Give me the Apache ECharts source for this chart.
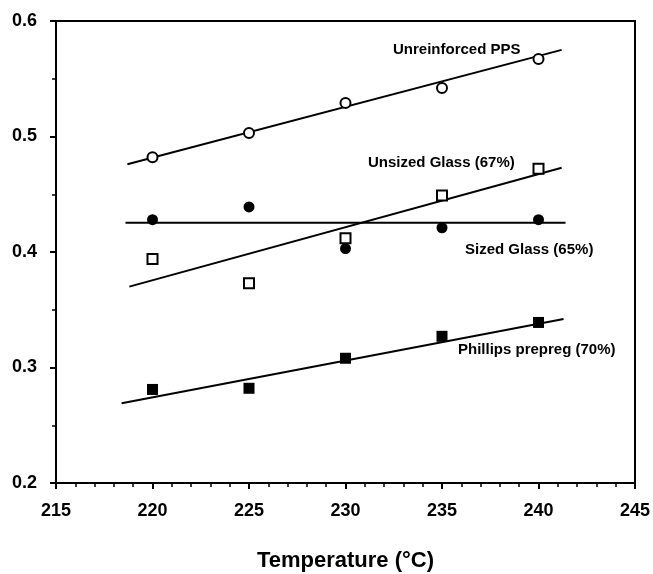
<!DOCTYPE html>
<html>
<head>
<meta charset="utf-8">
<script src="https://cdn.jsdelivr.net/npm/echarts@6/dist/echarts.min.js"></script>
<style>html,body{margin:0;padding:0;background:#fff;}#c{width:653px;height:574px;}</style>
</head>
<body>
<div id="c"></div>
<script>
// Data
var temperatures = [220, 225, 230, 235, 240];
var unreinforcedPPS = [0.482, 0.503, 0.529, 0.542, 0.567];
var unsizedGlass = [0.394, 0.373, 0.412, 0.449, 0.472];
var sizedGlass = [0.428, 0.439, 0.403, 0.421, 0.428];
var phillipsPrepreg = [0.281, 0.282, 0.308, 0.327, 0.339];

// Fitted line endpoints [temperature, value]
var fitPPS = [[218.7, 0.476], [241.2, 0.575]];
var fitUnsized = [[218.8, 0.370], [241.2, 0.473]];
var fitSized = [[218.6, 0.4254], [241.4, 0.4254]];
var fitPhillips = [[218.4, 0.269], [241.3, 0.342]];

var xTicks = [215, 220, 225, 230, 235, 240, 245];
var yTicks = [0.2, 0.3, 0.4, 0.5, 0.6];

var seriesLabels = ['Unreinforced PPS', 'Unsized Glass (67%)', 'Sized Glass (65%)', 'Phillips prepreg (70%)'];

function pts(ys) { return temperatures.map(function (t, i) { return [t, ys[i]]; }); }

var chart = echarts.init(document.getElementById('c'));
var fontFam = '"Liberation Sans", Arial, Helvetica, sans-serif';

function fitLine(d) {
  return { type: 'line', data: d, symbol: 'none', z: 2, silent: true,
    lineStyle: { color: '#000', width: 2 } };
}

chart.setOption({
  animation: false,
  backgroundColor: '#fff',
  grid: { left: 56, right: 18, top: 21, bottom: 91, outerBoundsMode: 'none', containLabel: false,
    show: true, borderColor: '#000', borderWidth: 2, backgroundColor: 'transparent' },
  xAxis: {
    type: 'value', min: xTicks[0], max: xTicks[xTicks.length - 1], interval: 5,
    name: 'Temperature (°C)', nameLocation: 'middle', nameGap: 67,
    nameTextStyle: { fontFamily: fontFam, fontSize: 22, fontWeight: 'bold', color: '#000' },
    axisLine: { lineStyle: { color: '#000', width: 2 } },
    axisTick: { show: true, inside: false, length: 6, lineStyle: { color: '#000', width: 2 } },
    minorTick: { show: true, splitNumber: 5, length: 4, lineStyle: { color: '#000', width: 1.5 } },
    axisLabel: { fontFamily: fontFam, fontSize: 18, fontWeight: 'bold', color: '#000', margin: 19 },
    splitLine: { show: false }
  },
  yAxis: {
    type: 'value', min: yTicks[0], max: yTicks[yTicks.length - 1], interval: 0.1,
    axisLine: { lineStyle: { color: '#000', width: 2 } },
    axisTick: { show: true, inside: false, length: 6, lineStyle: { color: '#000', width: 2 } },
    minorTick: { show: true, splitNumber: 2, length: 4, lineStyle: { color: '#000', width: 1.5 } },
    axisLabel: { fontFamily: fontFam, fontSize: 18, fontWeight: 'bold', color: '#000', margin: 19,
      formatter: function (v) { return v.toFixed(1); } },
    splitLine: { show: false }
  },
  series: [
    fitLine(fitPPS), fitLine(fitUnsized), fitLine(fitSized), fitLine(fitPhillips),
    { type: 'scatter', name: seriesLabels[0], data: pts(unreinforcedPPS), symbol: 'circle', symbolSize: 10, z: 5,
      itemStyle: { color: '#fff', borderColor: '#000', borderWidth: 2, opacity: 1 } },
    { type: 'scatter', name: seriesLabels[1], data: pts(unsizedGlass), symbol: 'rect', symbolSize: 10, z: 5,
      itemStyle: { color: '#fff', borderColor: '#000', borderWidth: 2, opacity: 1 } },
    { type: 'scatter', name: seriesLabels[2], data: pts(sizedGlass), symbol: 'circle', symbolSize: 11, z: 5,
      itemStyle: { color: '#000', opacity: 1 } },
    { type: 'scatter', name: seriesLabels[3], data: pts(phillipsPrepreg), symbol: 'rect', symbolSize: 11, z: 5,
      itemStyle: { color: '#000', opacity: 1 } }
  ],
  graphic: [
    { type: 'text', left: 393, top: 42, style: { text: seriesLabels[0], font: 'bold 15px ' + fontFam, fill: '#000' } },
    { type: 'text', left: 368, top: 155, style: { text: seriesLabels[1], font: 'bold 15px ' + fontFam, fill: '#000' } },
    { type: 'text', left: 465, top: 242, style: { text: seriesLabels[2], font: 'bold 15px ' + fontFam, fill: '#000' } },
    { type: 'text', left: 458, top: 342, style: { text: seriesLabels[3], font: 'bold 15px ' + fontFam, fill: '#000' } }
  ]
});
</script>
</body>
</html>
